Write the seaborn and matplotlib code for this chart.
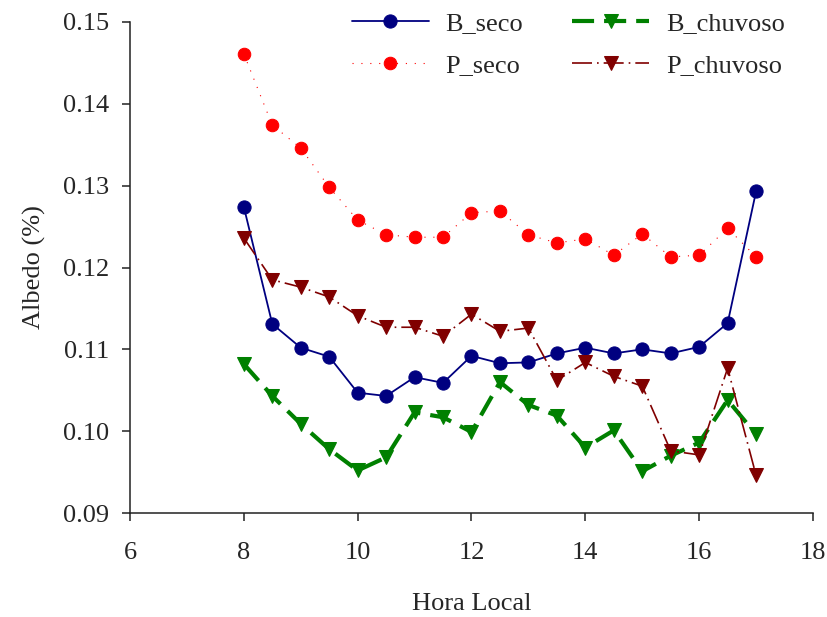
import matplotlib
matplotlib.use("Agg")
import matplotlib.pyplot as plt
import seaborn as sns
import pandas as pd

# Local time (hours) of each half-hourly observation
hora = [8, 8.5, 9, 9.5, 10, 10.5, 11, 11.5, 12, 12.5, 13,
        13.5, 14, 14.5, 15, 15.5, 16, 16.5, 17]

# Mean albedo per site and season
b_seco = [0.1274, 0.1131, 0.1102, 0.1091, 0.1047, 0.1043, 0.1066, 0.1059, 0.1092, 0.1083, 0.1084,
          0.1095, 0.1102, 0.1095, 0.1100, 0.1095, 0.1103, 0.1132, 0.1293]
p_seco = [0.1461, 0.1374, 0.1346, 0.1298, 0.1258, 0.1240, 0.1237, 0.1237, 0.1267, 0.1269, 0.1240,
          0.1230, 0.1235, 0.1215, 0.1241, 0.1213, 0.1215, 0.1248, 0.1213]
b_chuvoso = [0.1082, 0.1043, 0.1009, 0.0978, 0.0952, 0.0968, 0.1023, 0.1017, 0.0999, 0.1060, 0.1032,
             0.1019, 0.0980, 0.1001, 0.0951, 0.0970, 0.0986, 0.1038, 0.0996]
p_chuvoso = [0.1236, 0.1185, 0.1176, 0.1164, 0.1141, 0.1127, 0.1127, 0.1116, 0.1143, 0.1122, 0.1126,
             0.1062, 0.1084, 0.1067, 0.1055, 0.0976, 0.0971, 0.1077, 0.0946]

x_ticks = [6, 8, 10, 12, 14, 16, 18]
y_ticks = [0.09, 0.10, 0.11, 0.12, 0.13, 0.14, 0.15]

df = pd.DataFrame({"hora": hora, "B_seco": b_seco, "P_seco": p_seco,
                   "B_chuvoso": b_chuvoso, "P_chuvoso": p_chuvoso})

sns.set_style("ticks")
plt.rcParams["font.family"] = ["Liberation Serif", "DejaVu Serif"]
plt.rcParams["axes.linewidth"] = 1.1
plt.rcParams["axes.edgecolor"] = "#222222"

FS = 19

fig = plt.figure(figsize=(8.28, 6.17), dpi=100)
ax = fig.add_axes([130 / 828, 1 - 513 / 617, (813 - 130) / 828, (513 - 22) / 617])

styles = {
    "B_seco": dict(color="#000080", linewidth=1.3, marker="o", markersize=9.5,
                   markeredgecolor="#000080", linestyle="-"),
    "P_seco": dict(color="#ff0000", linewidth=0.8, marker="o", markersize=9,
                   markeredgecolor="#ff0000", dashes=(1, 7)),
    "B_chuvoso": dict(color="#008000", linewidth=3.0, marker="v", markersize=9.5,
                      markeredgecolor="#008000", dashes=(5.3, 2.4)),
    "P_chuvoso": dict(color="#800000", linewidth=1.2, marker="v", markersize=10.5,
                      markeredgecolor="#800000", dashes=(12, 3, 1, 3)),
}

for name in ["B_seco", "P_seco", "B_chuvoso", "P_chuvoso"]:
    sns.lineplot(data=df, x="hora", y=name, ax=ax, label=name, **styles[name])

ax.set_xlim(6, 18)
ax.set_ylim(0.09, 0.15)
ax.set_xticks(x_ticks)
ax.set_yticks(y_ticks)
ax.set_yticklabels([f"{v:.2f}" for v in y_ticks])
ax.tick_params(axis="both", labelsize=FS, direction="out", length=6, width=1.1,
               color="#222222")
ax.tick_params(axis="x", pad=15)
ax.tick_params(axis="y", pad=9)
ax.set_xlabel("Hora Local", fontsize=FS, labelpad=21)
ax.set_ylabel("Albedo (%)", fontsize=FS, labelpad=12)
sns.despine(ax=ax)

leg = ax.legend(ncol=2, loc="upper left", bbox_to_anchor=(352 / 828, 1 - 12 / 617),
                bbox_transform=fig.transFigure, frameon=False, fontsize=FS,
                handlelength=2.9, handletextpad=0.65, columnspacing=1.85,
                labelspacing=0.7, borderpad=0, borderaxespad=0)

fig.savefig("out.png", dpi=100)
